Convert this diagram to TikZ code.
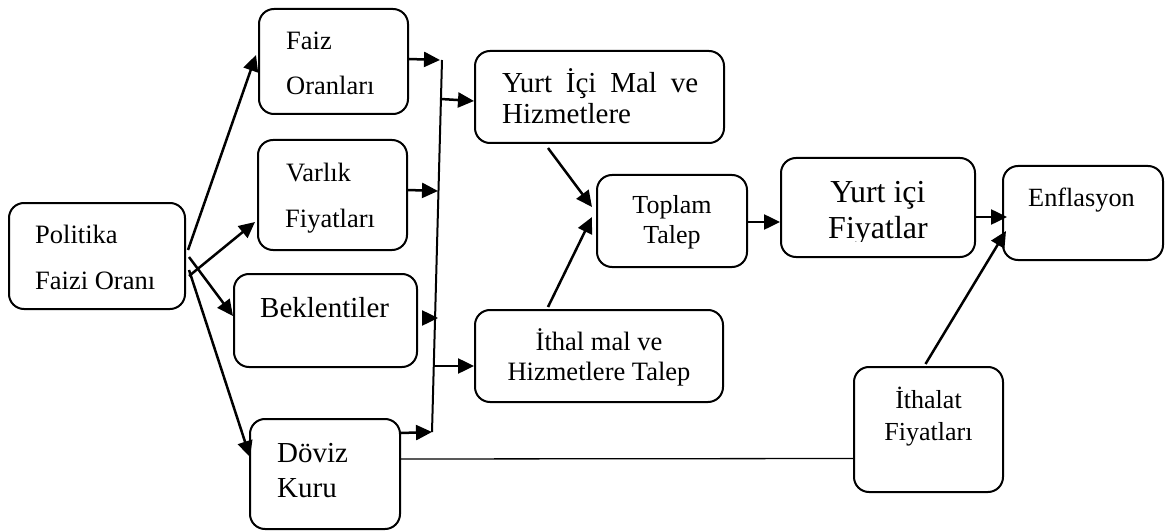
\documentclass[tikz,border=0pt]{standalone}
\usepackage{fontspec}
\setmainfont{Liberation Serif}
\usetikzlibrary{arrows.meta,calc}

\begin{document}
\begin{tikzpicture}[x=1pt,y=-1pt,
  box/.style={draw, line width=2pt, rounded corners=15pt, inner sep=0pt},
  txt/.style={inner sep=0pt, anchor=base west},
  ctxt/.style={inner sep=0pt, anchor=base},
  link/.style={line width=2.5pt, -{Triangle[length=16pt,width=15pt]}},
  plain/.style={line width=1.3pt},
  bus/.style={line width=2pt}]
\useasboundingbox (0,0) rectangle (1165,532);

% boxes
\node[box, minimum width=176pt, minimum height=106pt] (pol)    at (97,256)      {};
\node[box, minimum width=149pt, minimum height=105pt] (faiz)   at (333.5,61.5)  {};
\node[box, minimum width=149pt, minimum height=110pt] (varlik) at (332.5,195)   {};
\node[box, minimum width=183pt, minimum height=93pt]  (bek)    at (325.5,320.5) {};
\node[box, minimum width=150pt, minimum height=110pt] (doviz)  at (325,474)     {};
\node[box, minimum width=249pt, minimum height=92pt]  (yim)    at (599.5,97)    {};
\node[box, minimum width=150pt, minimum height=92pt]  (top)    at (672,221)     {};
\node[box, minimum width=248pt, minimum height=92pt]  (ithal)  at (599,356)     {};
\node[box, minimum width=194pt, minimum height=99pt]  (yif)    at (878,207.5)   {};
\node[box, minimum width=160pt, minimum height=94pt]  (enf)    at (1083,213)    {};
\node[box, minimum width=149pt, minimum height=125pt] (ithf)   at (928.5,429.5) {};

% box texts
\node[txt, font=\fontsize{26.5}{30}\selectfont] (pol-a) at (35,243) {Politika};
\node[txt, font=\fontsize{26.5}{30}\selectfont] (pol-b) at (35,289) {Faizi Oranı};
\node[txt, font=\fontsize{26.5}{30}\selectfont] (faiz-a) at (286,50) {Faiz};
\node[txt, font=\fontsize{26.5}{30}\selectfont] (faiz-b) at (286,95) {Oranları};
\node[txt, font=\fontsize{26.5}{30}\selectfont] (varlik-a) at (286,182) {Varlık};
\node[txt, font=\fontsize{26.5}{30}\selectfont] (varlik-b) at (285,227) {Fiyatları};
\node[txt, font=\fontsize{29}{33}\selectfont] (bek-a) at (260,317) {Beklentiler};
\node[txt, font=\fontsize{29}{33}\selectfont] (doviz-a) at (277,462) {Döviz};
\node[txt, font=\fontsize{29}{33}\selectfont] (doviz-b) at (277,497) {Kuru};
\node[txt, font=\fontsize{29}{33}\selectfont] (yim-a) at (502,93) {\makebox[196pt][s]{Yurt İçi Mal ve}};
\node[txt, font=\fontsize{29}{33}\selectfont] (yim-b) at (502,124) {Hizmetlere};
\node[ctxt, font=\fontsize{26}{30}\selectfont] (top-a) at (672,213) {Toplam};
\node[ctxt, font=\fontsize{26}{30}\selectfont] (top-b) at (672,243) {Talep};
\node[ctxt, font=\fontsize{26.5}{30}\selectfont] (ithal-a) at (599,350) {İthal mal ve};
\node[ctxt, font=\fontsize{26.5}{30}\selectfont] (ithal-b) at (599,380) {Hizmetlere Talep};
\node[ctxt, font=\fontsize{32}{36}\selectfont] (yif-a) at (878,202) {Yurt içi};
\begin{scope}
  \clip (781,158) rectangle (975,241);
  \node[ctxt, font=\fontsize{32}{36}\selectfont] (yif-b) at (878,238) {Fiyatlar};
\end{scope}
\node[txt, font=\fontsize{26.3}{30}\selectfont] (enf-a) at (1028,207) {Enflasyon};
\node[ctxt, font=\fontsize{26}{30}\selectfont] (ithf-a) at (928.5,408) {İthalat};
\node[ctxt, font=\fontsize{26}{30}\selectfont] (ithf-b) at (928.5,440) {Fiyatları};

% collecting line and its junctions
\coordinate (busT) at (442,60);
\coordinate (busB) at (432,432);
\coordinate (j1) at (440,60);
\coordinate (j2) at (438,191);
\coordinate (j3) at (438,318);
\coordinate (j4) at (432,432);
\coordinate (o1) at (441,99);
\coordinate (o2) at (433,366);
\draw[bus] (busT) -- (busB);

% policy rate to the channels
\draw[link] ($(pol.east)+(2,-6)$) -- ($(faiz.west)+(-2,-6.5)$);
\draw[link] ($(pol.east)+(3,20)$) -- ($(varlik.west)+(-2,27)$);
\draw[link] ($(pol.east)+(3,1)$) -- ($(bek.west)+(0,-4.5)$);
\draw[link] ($(pol.east)+(3,14)$) -- ($(doviz.west)+(1,-17)$);

% channels into the collecting line
\draw[link] ($(faiz.east)+(0,-2.5)$) -- (j1);
\draw[link] ($(varlik.east)+(0,-5)$) -- (j2);
\draw[link] ($(bek.east)+(6,-2.5)$) -- (j3);
\draw[link] ($(doviz.east)+(0,-41)$) -- (j4);

% out of the collecting line
\draw[link] (o1) -- ($(yim.west)+(0,4)$);
\draw[link] (o2) -- ($(ithal.west)+(0,10)$);

% demand and prices
\draw[link] ($(yim.south)+(-51.5,4)$) -- ($(top.west)+(-4,-14)$);
\draw[link] ($(ithal.north)+(-51,-2)$) -- ($(top.west)+(-4,-4)$);
\draw[link] ($(top.east)+(0,1)$) -- ($(yif.west)+(0,14.5)$);
\draw[link] ($(yif.east)+(0,9.5)$) -- ($(enf.west)+(5,4)$);
\draw[link] ($(ithf.north)+(-3,-2)$) -- ($(enf.west)+(4,18)$);

% exchange rate to import prices
\draw[plain] ($(doviz.east)+(0,-15)$) -- ($(ithf.west)+(0,29)$);
\end{tikzpicture}
\end{document}
